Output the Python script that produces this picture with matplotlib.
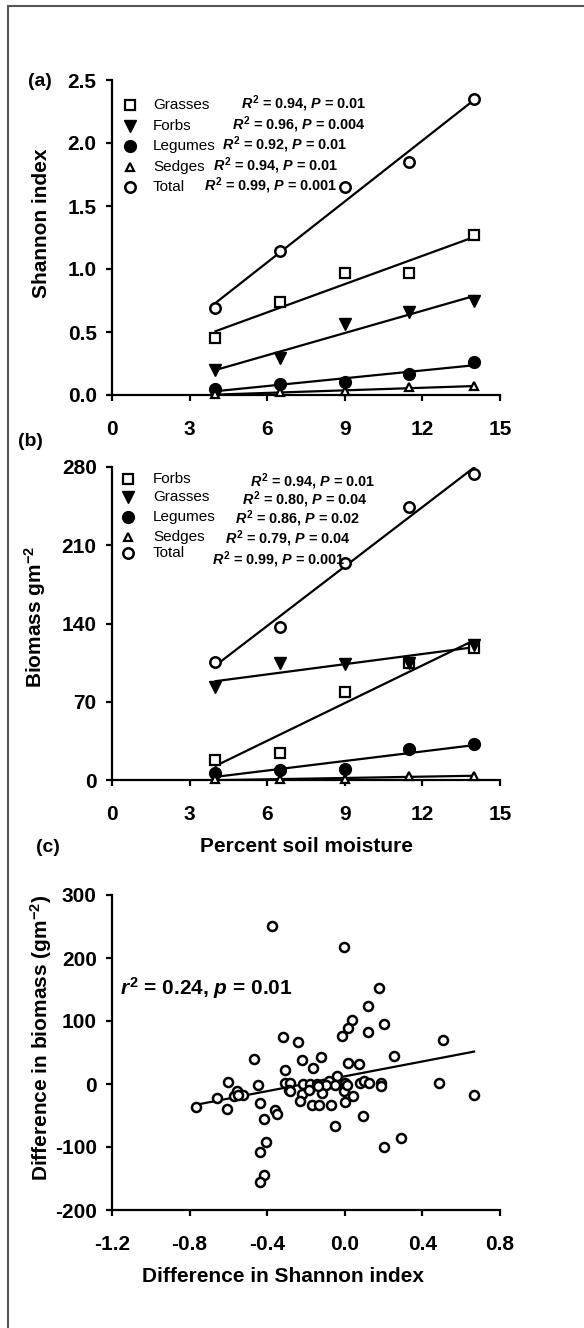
import numpy as np
import matplotlib
matplotlib.use("Agg")
from matplotlib import pyplot as plt
from matplotlib.patches import Rectangle

# ---- data ----
moisture = [4, 6.5, 9, 11.5, 14]

shannon_grasses = [0.45, 0.74, 0.97, 0.97, 1.27]
shannon_forbs = [0.20, 0.29, 0.56, 0.66, 0.75]
shannon_legumes = [0.045, 0.085, 0.105, 0.17, 0.26]
shannon_sedges = [0.005, 0.02, 0.03, 0.06, 0.07]
shannon_total = [0.69, 1.14, 1.65, 1.85, 2.35]
shannon_names = ["Grasses", "Forbs", "Legumes", "Sedges", "Total"]
shannon_stats = ["= 0.94, $P$ = 0.01", "= 0.96, $P$ = 0.004", "= 0.92, $P$ = 0.01",
                 "= 0.94, $P$ = 0.01", "= 0.99, $P$ = 0.001"]

biomass_forbs = [18, 24, 79, 105, 118]
biomass_grasses = [83, 105, 104, 105, 121]
biomass_legumes = [6, 9, 10, 28, 32]
biomass_sedges = [0.5, 0.5, 0.5, 3.5, 4]
biomass_total = [106, 137, 194, 244, 274]
biomass_names = ["Forbs", "Grasses", "Legumes", "Sedges", "Total"]
biomass_stats = ["= 0.94, $P$ = 0.01", "= 0.80, $P$ = 0.04", "= 0.86, $P$ = 0.02",
                 "= 0.79, $P$ = 0.04", "= 0.99, $P$ = 0.001"]

diff_shannon = [-0.376, -0.002, 0.177, 0.118, 0.036, 0.019, -0.012, 0.204, 0.122, 0.508,
                -0.319, -0.239, -0.467, -0.221, -0.122, -0.165, -0.307, 0.014, 0.074, 0.252,
                -0.039, -0.604, -0.445, -0.307, -0.285, -0.216, -0.179, -0.144, -0.113, -0.084,
                -0.053, 0.002, 0.079, 0.101, 0.127, 0.187, 0.187, 0.488, 0.666, -0.766,
                -0.658, -0.608, -0.573, -0.556, -0.527, -0.553, -0.436, -0.419, -0.362, -0.350,
                -0.405, -0.439, -0.419, -0.439, -0.290, -0.285, -0.221, -0.233, -0.187, -0.167,
                -0.131, -0.115, -0.096, -0.072, -0.050, -0.002, 0.002, 0.041, 0.096, 0.204,
                0.290, -0.136, 0.010]
diff_biomass = [251, 217, 152, 124, 102, 89, 76, 96, 82, 70,
                74, 67, 39, 38, 43, 25, 22, 33, 32, 45,
                13, 3, -2, 2, 2, 0, 0, 0, 0, 4,
                -1, 1, 1, 4, 2, 1, -3, 2, -18, -36,
                -23, -39, -19, -11, -18, -18, -30, -55, -41, -48,
                -92, -108, -145, -155, -9, -11, -16, -27, -10, -34,
                -33, -15, -2, -34, -67, -11, -29, -19, -51, -100,
                -85, -3, -2]

# ---- styles ----
W, H = 584, 1328
styles = {
    "Grasses": dict(marker="s", ms=7, mfc="white", mec="black", mew=1.6),
    "Forbs": dict(marker="v", ms=9, mfc="black", mec="black", mew=1),
    "Legumes": dict(marker="o", ms=8.5, mfc="black", mec="black", mew=1),
    "Sedges": dict(marker="^", ms=6, mfc="white", mec="black", mew=1.6),
    "Total": dict(marker="o", ms=7.5, mfc="white", mec="black", mew=1.8),
}
bio_styles = dict(styles)
bio_styles["Forbs"] = styles["Grasses"]
bio_styles["Grasses"] = styles["Forbs"]

plt.rcParams["font.family"] = "Liberation Sans"
plt.rcParams["axes.unicode_minus"] = False
plt.rcParams["mathtext.fontset"] = "custom"
plt.rcParams["mathtext.rm"] = "Liberation Sans:bold"
plt.rcParams["mathtext.it"] = "Liberation Sans:bold:italic"
plt.rcParams["mathtext.bf"] = "Liberation Sans:bold"

fig = plt.figure(figsize=(W / 100, H / 100), dpi=100)


def fx(x):
    return x / W


def fy(y):
    return 1 - y / H


def add_axes(top, bottom):
    ax = fig.add_axes([fx(112), fy(bottom), fx(500) - fx(112), (bottom - top) / H])
    for s in ["top", "right"]:
        ax.spines[s].set_visible(False)
    for s in ["left", "bottom"]:
        ax.spines[s].set_linewidth(1.6)
    ax.tick_params(direction="out", length=4, width=1.6, labelsize=15)
    ax.tick_params(axis="x", pad=14)
    ax.tick_params(axis="y", pad=7)
    return ax


def bold_ticks(ax):
    for lab in ax.get_xticklabels() + ax.get_yticklabels():
        lab.set_fontweight("bold")


def draw_group(ax, x, y, st):
    x = np.array(x, dtype=float)
    y = np.array(y, dtype=float)
    k, b = np.polyfit(x, y, 1)
    ax.plot([x.min(), x.max()], [k * x.min() + b, k * x.max() + b], color="black", lw=1.6, zorder=2)
    ax.plot(x, y, ls="none", zorder=3, clip_on=False, **st)


# ---- (a) Shannon index ----
ax1 = add_axes(80, 395)
for name, vals in zip(shannon_names, [shannon_grasses, shannon_forbs, shannon_legumes,
                                      shannon_sedges, shannon_total]):
    draw_group(ax1, moisture, vals, styles[name])
ax1.set_xlim(0, 15)
ax1.set_ylim(0, 2.5)
ax1.set_xticks([0, 3, 6, 9, 12, 15])
ax1.set_yticks([0, 0.5, 1.0, 1.5, 2.0, 2.5])
ax1.set_yticklabels(["%.1f" % v for v in [0, 0.5, 1.0, 1.5, 2.0, 2.5]])
bold_ticks(ax1)

rows_a = [105, 126, 146, 167, 187]
stat_x_a = [241, 232, 222, 213, 204]
for name, stat, ry, sx in zip(shannon_names, shannon_stats, rows_a, stat_x_a):
    fig.add_artist(plt.Line2D([fx(130)], [fy(ry)], transform=fig.transFigure, ls="none", **styles[name]))
    fig.text(fx(153), fy(ry), name, fontsize=11, va="center", ha="left")
    fig.text(fx(sx), fy(ry - 1), "$R^2$ " + stat, fontsize=10.4, fontweight="bold", va="center", ha="left")

# ---- (b) Biomass ----
ax2 = add_axes(467, 780)
for name, vals in zip(biomass_names, [biomass_forbs, biomass_grasses, biomass_legumes,
                                      biomass_sedges, biomass_total]):
    draw_group(ax2, moisture, vals, bio_styles[name])
ax2.set_xlim(0, 15)
ax2.set_ylim(0, 280)
ax2.set_xticks([0, 3, 6, 9, 12, 15])
ax2.set_yticks([0, 70, 140, 210, 280])
bold_ticks(ax2)

rows_b = [479, 497, 517, 537, 553]
stat_x_b = [250, 242, 235, 225, 212]
stat_y_b = [482, 500, 519, 539, 560]
for name, stat, ry, sx, sy in zip(biomass_names, biomass_stats, rows_b, stat_x_b, stat_y_b):
    fig.add_artist(plt.Line2D([fx(128)], [fy(ry)], transform=fig.transFigure, ls="none", **bio_styles[name]))
    fig.text(fx(153), fy(ry), name, fontsize=11, va="center", ha="left")
    fig.text(fx(sx), fy(sy), "$R^2$ " + stat, fontsize=10.4, fontweight="bold", va="center", ha="left")

# ---- (c) differences ----
ax3 = add_axes(895, 1210)
dx = np.array(diff_shannon)
dy = np.array(diff_biomass)
k, b = np.polyfit(dx, dy, 1)
ax3.plot([dx.min(), dx.max()], [k * dx.min() + b, k * dx.max() + b], color="black", lw=1.6, zorder=2)
ax3.plot(dx, dy, ls="none", marker="o", ms=6.5, mfc="white", mec="black", mew=1.8, zorder=3)
ax3.set_xlim(-1.2, 0.8)
ax3.set_ylim(-200, 300)
ax3.set_xticks([-1.2, -0.8, -0.4, 0.0, 0.4, 0.8])
ax3.set_xticklabels(["%.1f" % v for v in [-1.2, -0.8, -0.4, 0.0, 0.4, 0.8]])
ax3.set_yticks([-200, -100, 0, 100, 200, 300])
bold_ticks(ax3)
fig.text(fx(120), fy(988), "$r^2$ = 0.24, $p$ = 0.01", fontsize=15, fontweight="bold",
         va="center", ha="left")

# ---- labels ----
fig.text(fx(40), fy(82), "(a)", fontsize=14, fontweight="bold", ha="center", va="center")
fig.text(fx(30), fy(441), "(b)", fontsize=14, fontweight="bold", ha="center", va="center")
fig.text(fx(48), fy(847), "(c)", fontsize=14, fontweight="bold", ha="center", va="center")

fig.text(fx(42), fy(223), "Shannon index", fontsize=15, fontweight="bold",
         rotation=90, ha="center", va="center")
fig.text(fx(35), fy(617), "Biomass gm$^{-2}$", fontsize=15, fontweight="bold",
         rotation=90, ha="center", va="center")
fig.text(fx(41), fy(1038), "Difference in biomass (gm$^{-2}$)", fontsize=15, fontweight="bold",
         rotation=90, ha="center", va="center")
fig.text(fx(306), fy(847), "Percent soil moisture", fontsize=15, fontweight="bold",
         ha="center", va="center")
fig.text(fx(283), fy(1277), "Difference in Shannon index", fontsize=15, fontweight="bold",
         ha="center", va="center")

# frame around the figure (only left and top visible)
fig.add_artist(Rectangle((fx(8), -0.05), 1.2, fy(6) + 0.05, transform=fig.transFigure,
                         fill=False, ec="#555555", lw=1.5))

fig.savefig("out.png", dpi=100)
